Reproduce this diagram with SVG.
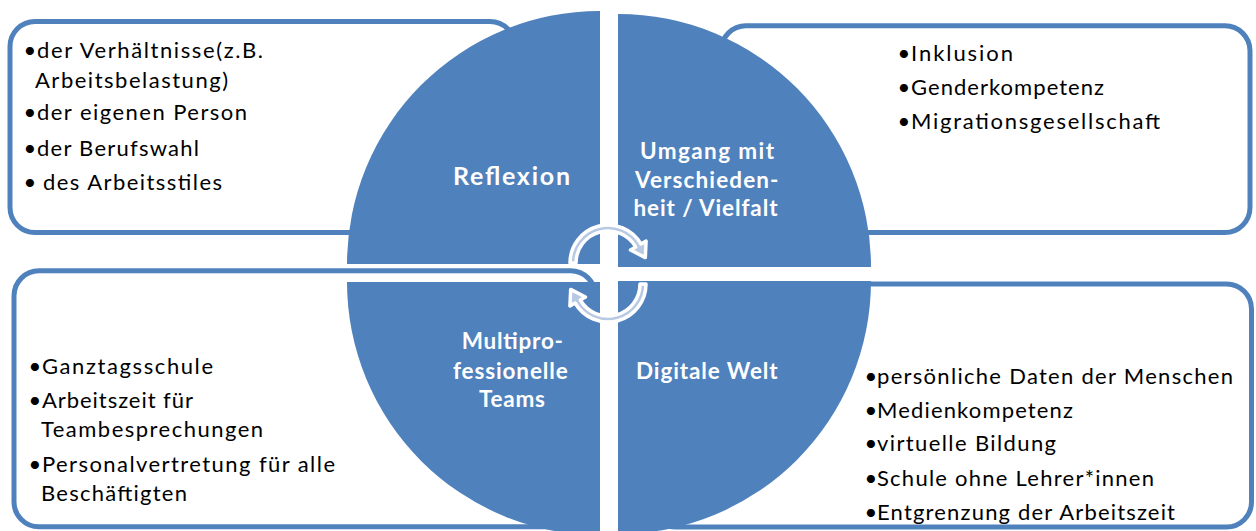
<svg xmlns="http://www.w3.org/2000/svg" width="1256" height="531" viewBox="0 0 1256 531">
<style>
.box{fill:#fff;stroke:#4F81BD;stroke-width:5}
.q{fill:#4F81BD}
.t{font-family:Lato,"Open Sans","Liberation Sans",sans-serif;font-size:22px;fill:#000}
.l{font-family:Lato,"Open Sans","Liberation Sans",sans-serif;font-weight:bold;font-size:22.5px;fill:#fff}
.arr{fill:#B8C9E3;stroke:#fff;stroke-width:3.5;stroke-linejoin:round}
</style>
<rect width="1256" height="531" fill="#fff"/>
<g id="box-reflexion">
<rect class="box" x="10" y="21.5" width="505" height="211" rx="25"/>
<text class="t" x="23.5" y="57.5">•</text><text class="t" x="37" y="57.5" textLength="226" lengthAdjust="spacing">der Verhältnisse(z.B.</text>
<text class="t" x="35" y="88" textLength="193" lengthAdjust="spacing">Arbeitsbelastung)</text>
<text class="t" x="23.5" y="120">•</text><text class="t" x="37" y="120" textLength="210" lengthAdjust="spacing">der eigenen Person</text>
<text class="t" x="23.5" y="156">•</text><text class="t" x="37" y="156" textLength="162" lengthAdjust="spacing">der Berufswahl</text>
<text class="t" x="23.5" y="189.5">•</text><text class="t" x="43" y="189.5" textLength="179" lengthAdjust="spacing">des Arbeitsstiles</text>
</g>
<g id="box-vielfalt">
<rect class="box" x="721" y="25.8" width="529" height="206.7" rx="25"/>
<text class="t" x="897.5" y="61">•</text><text class="t" x="911" y="61" textLength="102" lengthAdjust="spacing">Inklusion</text>
<text class="t" x="897.5" y="95">•</text><text class="t" x="911" y="95" textLength="193" lengthAdjust="spacing">Genderkompetenz</text>
<text class="t" x="897.5" y="129.3">•</text><text class="t" x="911" y="129.3" textLength="249" lengthAdjust="spacing">Migrationsgesellschaft</text>
</g>
<g id="box-teams">
<rect class="box" x="14" y="270.8" width="581.5" height="256" rx="25"/>
<text class="t" x="28.5" y="374.3">•</text><text class="t" x="42" y="374.3" textLength="171" lengthAdjust="spacing">Ganztagsschule</text>
<text class="t" x="28.5" y="407.7">•</text><text class="t" x="42" y="407.7" textLength="151" lengthAdjust="spacing">Arbeitszeit für</text>
<text class="t" x="41" y="436.7" textLength="222" lengthAdjust="spacing">Teambesprechungen</text>
<text class="t" x="28.5" y="471.7">•</text><text class="t" x="42" y="471.7" textLength="293" lengthAdjust="spacing">Personalvertretung für alle</text>
<text class="t" x="41" y="501" textLength="146" lengthAdjust="spacing">Beschäftigten</text>
</g>
<g id="box-digital">
<rect class="box" x="650" y="284" width="601.5" height="243" rx="25"/>
<text class="t" x="864.5" y="384">•</text><text class="t" x="877" y="384" textLength="356" lengthAdjust="spacing">persönliche Daten der Menschen</text>
<text class="t" x="864.5" y="418">•</text><text class="t" x="877" y="418" textLength="196" lengthAdjust="spacing">Medienkompetenz</text>
<text class="t" x="864.5" y="451">•</text><text class="t" x="877" y="451" textLength="179" lengthAdjust="spacing">virtuelle Bildung</text>
<text class="t" x="864.5" y="486">•</text><text class="t" x="877" y="486" textLength="277" lengthAdjust="spacing">Schule ohne Lehrer*innen</text>
<text class="t" x="864.5" y="520">•</text><text class="t" x="877" y="520" textLength="298" lengthAdjust="spacing">Entgrenzung der Arbeitszeit</text>
</g>
<g id="q-reflexion">
<path class="q" d="M600,264 L347,264 A253,253 0 0 1 600,11 Z"/>
<text class="l" x="453" y="184.5" style="font-size:25px" textLength="117" lengthAdjust="spacing">Reflexion</text>
</g>
<g id="q-vielfalt">
<path class="q" d="M618,267 L618,14 A253,253 0 0 1 871,267 Z"/>
<text class="l" x="640" y="159.3" textLength="134" lengthAdjust="spacing">Umgang mit</text>
<text class="l" x="635" y="188.3" textLength="143.5" lengthAdjust="spacing">Verschieden-</text>
<text class="l" x="633.5" y="215.8" textLength="144" lengthAdjust="spacing">heit / Vielfalt</text>
</g>
<g id="q-teams">
<path class="q" d="M600,282 L600,535 A253,253 0 0 1 347,282 Z"/>
<text class="l" x="461.7" y="349.3" textLength="101.3" lengthAdjust="spacing">Multipro-</text>
<text class="l" x="453" y="379" textLength="114.7" lengthAdjust="spacing">fessionelle</text>
<text class="l" x="479" y="406.5" textLength="66" lengthAdjust="spacing">Teams</text>
</g>
<g id="q-digital">
<path class="q" d="M618,281 L871,281 A253,253 0 0 1 618,534 Z"/>
<text class="l" x="636" y="378.6" textLength="141.7" lengthAdjust="spacing">Digitale Welt</text>
</g>
<g id="connectors">
<path class="arr" d="M570,263 A38,38 0 0 1 640.9,244 L646.1,241 L645.3,257.6 L630.5,250 L635.7,247 A32,32 0 0 0 576,263 Z"/>
<path class="arr" d="M646,284 A38,38 0 0 1 575.1,303 L569.9,306 L570.7,289.4 L585.5,297 L580.3,300 A32,32 0 0 0 640,284 Z"/>
</g>
</svg>
